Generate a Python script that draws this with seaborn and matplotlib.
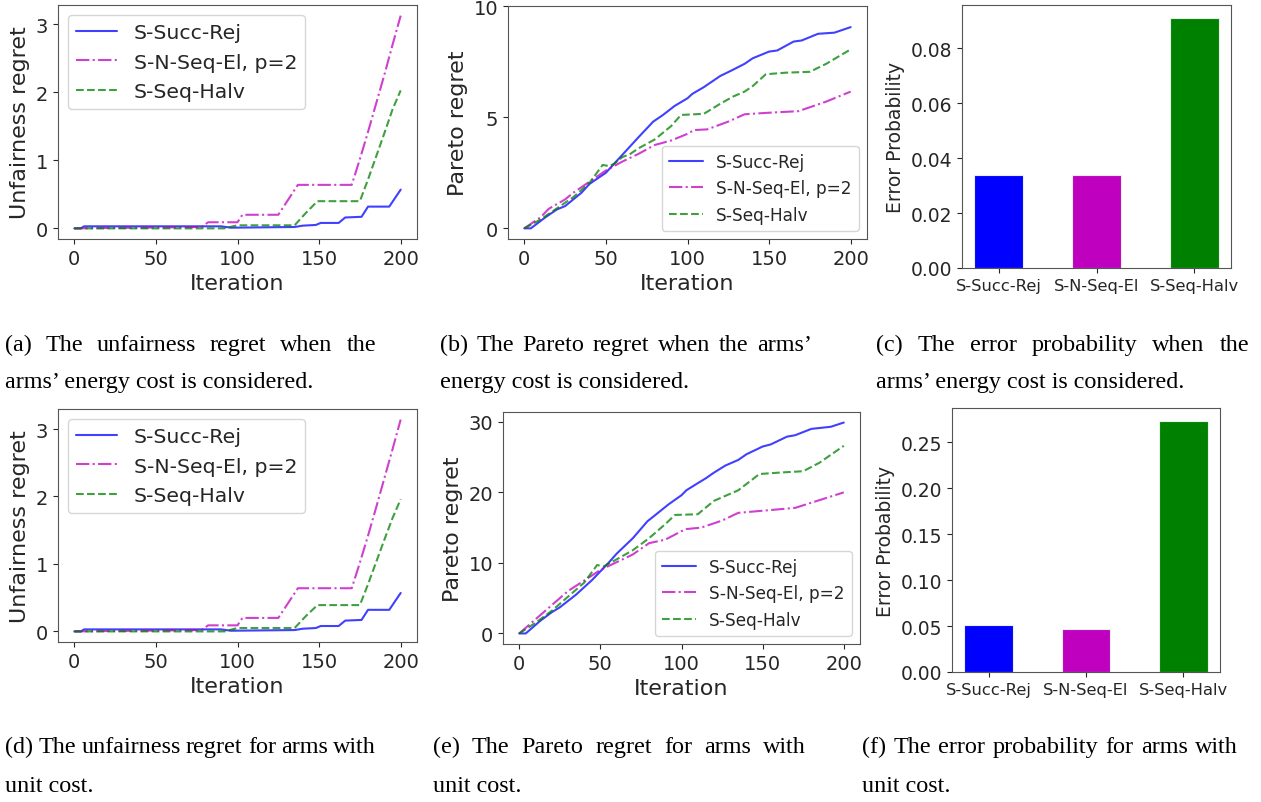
import matplotlib
matplotlib.use("Agg")
import matplotlib.pyplot as plt
import seaborn as sns

# ---------------- data ----------------
ALGOS = ["S-Succ-Rej", "S-N-Seq-El, p=2", "S-Seq-Halv"]
BAR_CATS = ["S-Succ-Rej", "S-N-Seq-El", "S-Seq-Halv"]

# (a) unfairness regret, energy cost
a_succ_x = [0, 4, 6, 90, 96, 135, 140, 148, 151, 162, 166, 176, 180, 193, 200]
a_succ_y = [0, 0, 0.03, 0.03, 0.01, 0.02, 0.04, 0.05, 0.08, 0.08, 0.16, 0.17, 0.32, 0.32, 0.57]
a_nel_x = [0, 78, 82, 100, 103, 125, 137, 170, 175, 180, 185, 190, 195, 200]
a_nel_y = [0, 0.02, 0.09, 0.09, 0.2, 0.2, 0.64, 0.64, 1.02, 1.42, 1.84, 2.26, 2.7, 3.13]
a_halv_x = [0, 92, 100, 135, 142, 149, 175, 180, 185, 190, 195, 200]
a_halv_y = [0, 0, 0.045, 0.045, 0.23, 0.4, 0.4, 0.72, 1.06, 1.4, 1.75, 2.03]

# (b) Pareto regret, energy cost
b_succ_x = [0, 4, 13, 20, 25, 35, 40, 50, 55, 60, 65, 70, 79, 85, 92, 100, 103, 110, 115, 120, 127, 135, 140, 150, 155, 160, 165, 170, 180, 190, 200]
b_succ_y = [0, 0, 0.5, 0.85, 1.0, 1.6, 2.0, 2.5, 2.9, 3.3, 3.7, 4.1, 4.8, 5.1, 5.5, 5.85, 6.05, 6.35, 6.6, 6.85, 7.1, 7.4, 7.65, 7.95, 8.0, 8.2, 8.4, 8.45, 8.75, 8.8, 9.05]
b_nel_x = [0, 10, 15, 25, 30, 40, 50, 60, 70, 80, 90, 100, 104, 112, 125, 135, 150, 168, 185, 200]
b_nel_y = [0, 0.5, 0.88, 1.3, 1.6, 2.1, 2.6, 3.0, 3.35, 3.75, 3.95, 4.25, 4.42, 4.45, 4.8, 5.13, 5.2, 5.27, 5.7, 6.15]
b_halv_x = [0, 10, 20, 30, 40, 48, 52, 55, 60, 65, 70, 80, 90, 96, 110, 120, 128, 135, 140, 148, 160, 175, 185, 200]
b_halv_y = [0, 0.4, 0.9, 1.4, 2.05, 2.85, 2.8, 2.9, 3.2, 3.35, 3.6, 4.0, 4.6, 5.1, 5.15, 5.6, 5.93, 6.15, 6.4, 6.93, 7.0, 7.04, 7.4, 8.05]

# (c) error probability, energy cost
c_err = [0.0337, 0.0337, 0.0912]

# (d) unfairness regret, unit cost
d_succ_x = [0, 4, 6, 90, 96, 135, 140, 148, 151, 162, 166, 176, 180, 193, 200]
d_succ_y = [0, 0, 0.03, 0.03, 0.01, 0.02, 0.04, 0.05, 0.08, 0.08, 0.16, 0.17, 0.32, 0.32, 0.57]
d_nel_x = [0, 78, 82, 100, 103, 125, 137, 170, 175, 180, 185, 190, 195, 200]
d_nel_y = [0, 0.02, 0.09, 0.09, 0.2, 0.2, 0.64, 0.64, 1.02, 1.42, 1.84, 2.27, 2.7, 3.14]
d_halv_x = [0, 92, 100, 135, 142, 149, 175, 180, 185, 190, 195, 200]
d_halv_y = [0, 0, 0.05, 0.05, 0.23, 0.39, 0.39, 0.7, 1.03, 1.36, 1.68, 1.96]

# (e) Pareto regret, unit cost
e_succ_x = [0, 4, 13, 20, 25, 35, 45, 55, 60, 70, 79, 85, 92, 100, 103, 110, 115, 120, 127, 135, 140, 150, 155, 165, 170, 180, 192, 200]
e_succ_y = [0, 0, 1.8, 3.0, 3.7, 5.5, 7.6, 10.0, 11.3, 13.5, 15.9, 17.0, 18.3, 19.6, 20.3, 21.3, 22.0, 22.8, 23.8, 24.6, 25.4, 26.5, 26.8, 27.9, 28.1, 29.0, 29.3, 29.9]
e_nel_x = [0, 15, 30, 40, 50, 60, 70, 80, 90, 100, 103, 112, 125, 135, 150, 170, 185, 200]
e_nel_y = [0, 3.0, 6.0, 7.5, 9.0, 10.1, 11.2, 12.8, 13.3, 14.5, 14.8, 15.0, 16.0, 17.1, 17.4, 17.8, 18.9, 20.0]
e_halv_x = [0, 10, 20, 30, 40, 48, 52, 60, 70, 80, 90, 96, 110, 120, 128, 135, 148, 160, 175, 185, 200]
e_halv_y = [0, 1.5, 3.2, 5.2, 7.2, 9.7, 9.5, 10.5, 11.8, 13.5, 15.5, 16.8, 16.9, 18.8, 19.6, 20.3, 22.6, 22.8, 23.0, 24.2, 26.6]

# (f) error probability, unit cost
f_err = [0.0517, 0.0466, 0.2737]

CAPTIONS = {
    "a": ["(a) The unfairness regret when the", "arms\u2019 energy cost is considered."],
    "b": ["(b) The Pareto regret when the arms\u2019", "energy cost is considered."],
    "c": ["(c) The error probability when the", "arms\u2019 energy cost is considered."],
    "d": ["(d) The unfairness regret for arms with", "unit cost."],
    "e": ["(e) The Pareto regret for arms with", "unit cost."],
    "f": ["(f) The error probability for arms with", "unit cost."],
}

# ---------------- style ----------------
LINE_COLORS = ["#0000ff", "#bf00bf", "#008000"]
LINE_STYLES = ["-", "-.", "--"]
BAR_COLORS = ["#0000ff", "#bf00bf", "#008000"]

sns.set_style("ticks")
plt.rcParams['font.family'] = ['DejaVu Sans']

W, H = 1261, 803
fig = plt.figure(figsize=(W / 100, H / 100), dpi=100)


def add_ax(left, top, right, bottom):
    return fig.add_axes([left / W, 1 - bottom / H, (right - left) / W, (bottom - top) / H])


def line_panel(ax, series, ylabel, yticks, ylim, loc, legend_fs):
    for (x, y), name, col, ls in zip(series, ALGOS, LINE_COLORS, LINE_STYLES):
        sns.lineplot(x=x, y=y, ax=ax, color=col, linestyle=ls, linewidth=1.5,
                     alpha=0.75, label=name)
    ax.set_xticks([0, 50, 100, 150, 200])
    ax.set_yticks(yticks)
    if ylim is not None:
        ax.set_ylim(*ylim)
    ax.tick_params(labelsize=14, colors="#262626")
    ax.set_xlabel("Iteration", fontsize=16, labelpad=4)
    ax.set_ylabel(ylabel, fontsize=16, labelpad=4)
    ax.legend(loc=loc, fontsize=legend_fs, frameon=True, handlelength=2.0)
    for s in ax.spines.values():
        s.set_visible(True)
        s.set_color("#555555")


def bar_panel(ax, vals):
    sns.barplot(x=BAR_CATS, y=vals, hue=BAR_CATS, palette=BAR_COLORS, saturation=1,
                width=0.5, legend=False, ax=ax, edgecolor="#e8f0e8", linewidth=0.8)
    ax.set_xlim(-0.375, 2.375)
    ax.set_ylim(0, max(vals) * 1.05)
    ax.tick_params(axis="y", labelsize=13.5, colors="#262626")
    ax.tick_params(axis="x", labelsize=11.8, colors="#262626")
    ax.set_ylabel("Error Probability", fontsize=13.5)
    ax.set_xlabel("")
    for s in ax.spines.values():
        s.set_visible(True)
        s.set_color("#555555")


ax_a = add_ax(58, 6, 417, 240)
line_panel(ax_a, [(a_succ_x, a_succ_y), (a_nel_x, a_nel_y), (a_halv_x, a_halv_y)],
           "Unfairness regret", [0, 1, 2, 3], None, "upper left", 14.7)

ax_b = add_ax(508, 7, 867, 240)
line_panel(ax_b, [(b_succ_x, b_succ_y), (b_nel_x, b_nel_y), (b_halv_x, b_halv_y)],
           "Pareto regret", [0, 5, 10], (-0.48, 10), "lower right", 12.2)

ax_c = add_ax(962, 6, 1231, 269)
bar_panel(ax_c, c_err)

ax_d = add_ax(58, 410, 417, 643)
line_panel(ax_d, [(d_succ_x, d_succ_y), (d_nel_x, d_nel_y), (d_halv_x, d_halv_y)],
           "Unfairness regret", [0, 1, 2, 3], None, "upper left", 14.7)

ax_e = add_ax(503, 413, 860, 645)
line_panel(ax_e, [(e_succ_x, e_succ_y), (e_nel_x, e_nel_y), (e_halv_x, e_halv_y)],
           "Pareto regret", [0, 10, 20, 30], None, "lower right", 12.2)

ax_f = add_ax(952, 409, 1220, 673)
bar_panel(ax_f, f_err)

# ---------------- captions ----------------
CAP_FS = 17.4
renderer = fig.canvas.get_renderer()


def caption_line(text, x0, x1, y, justify):
    kw = dict(fontsize=CAP_FS, family="Liberation Serif", va="baseline", ha="left",
              color="black")
    if not justify:
        fig.text(x0 / W, 1 - y / H, text, **kw)
        return
    words = text.split(" ")
    objs = [fig.text(0, 1 - y / H, w, **kw) for w in words]
    widths = [o.get_window_extent(renderer).width for o in objs]
    gap = (x1 - x0 - sum(widths)) / (len(words) - 1)
    x = x0
    for o, w in zip(objs, widths):
        o.set_x(x / W)
        x += w + gap


cap_pos = {
    "a": (5, 376, 351, 388),
    "b": (440, 812, 351, 388),
    "c": (876, 1249, 351, 388),
    "d": (5, 376, 753, 792),
    "e": (433, 806, 753, 792),
    "f": (862, 1238, 753, 792),
}
for k, (x0, x1, y1, y2) in cap_pos.items():
    l1, l2 = CAPTIONS[k]
    caption_line(l1, x0, x1, y1, True)
    caption_line(l2, x0, x1, y2, False)

fig.savefig("out.png", dpi=100)
